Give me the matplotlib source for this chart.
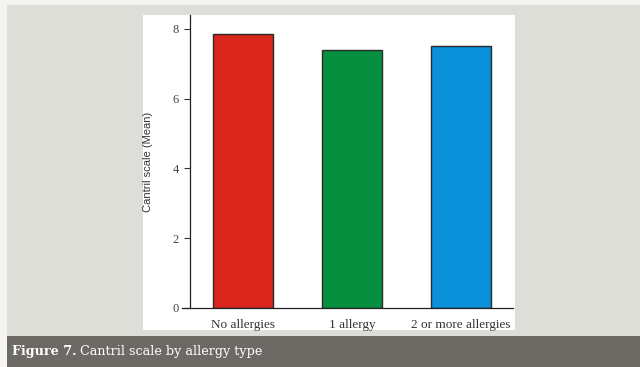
import matplotlib
matplotlib.use('Agg')
import matplotlib.pyplot as plt
from matplotlib.patches import Rectangle

categories = ['No allergies', '1 allergy', '2 or more allergies']
means = [7.86, 7.40, 7.52]
colors = ['#da251c', '#058f3f', '#0a91da']
yticks = [0, 2, 4, 6, 8]

W, H = 640, 367
fig = plt.figure(figsize=(W / 100, H / 100), dpi=100)
fig.patch.set_facecolor('#f4f4f2')

def px_rect(x0, y0, x1, y1, color, z):
    # pixel box measured from the top-left corner
    r = Rectangle((x0 / W, 1 - y1 / H), (x1 - x0) / W, (y1 - y0) / H,
                  transform=fig.transFigure, facecolor=color, edgecolor='none', zorder=z)
    fig.patches.append(r)

px_rect(7, 5, W, 336, '#deded9', -3)     # grey frame
px_rect(143, 15, 515, 330, 'white', -2)  # white panel
px_rect(7, 336, W, H, '#6d6a66', -3)     # caption band

ax = fig.add_axes([190 / W, 1 - 308 / H, (513 - 190) / W, (308 - 15) / H])
ax.set_zorder(2)
ax.set_facecolor('none')
ax.bar(range(len(categories)), means, width=0.55, color=colors,
       edgecolor='#2a2a2a', linewidth=1.0, zorder=3)
ax.set_xlim(-0.49, 2.48)
ax.set_ylim(0, 8.4)
# baseline pokes a little past the y axis, like the original
ax.plot([-0.56, 2.48], [0, 0], color='#222222', lw=0.9, clip_on=False, zorder=4)
ax.set_yticks(yticks)
ax.set_xticks(range(len(categories)))
ax.set_xticklabels(categories, family='Liberation Serif', fontsize=9.5, color='#333333')
for lab in ax.get_yticklabels():
    lab.set_family('Liberation Serif')
    lab.set_fontsize(9)
    lab.set_color('#444444')
ax.tick_params(axis='x', length=0, pad=8)
ax.tick_params(axis='y', length=4, width=0.8, color='#333333', pad=4)
for s in ['top', 'right', 'bottom']:
    ax.spines[s].set_visible(False)
ax.spines['left'].set_color('#222222')
ax.spines['left'].set_linewidth(0.9)
ax.set_ylabel('Cantril scale (Mean)', family='Liberation Sans', fontsize=8, color='#333333', labelpad=14)

t1 = fig.text(12 / W, 1 - 352 / H, 'Figure 7.', family='DejaVu Serif', fontweight='bold',
              fontsize=9.2, color='white', va='center', zorder=5)
fig.canvas.draw()
bb = t1.get_window_extent()
fig.text((bb.x1 + 4) / W, 1 - 352 / H, 'Cantril scale by allergy type', family='DejaVu Serif',
         fontsize=9.2, color='white', va='center', zorder=5)

fig.savefig('out.png', dpi=100, facecolor=fig.get_facecolor())
